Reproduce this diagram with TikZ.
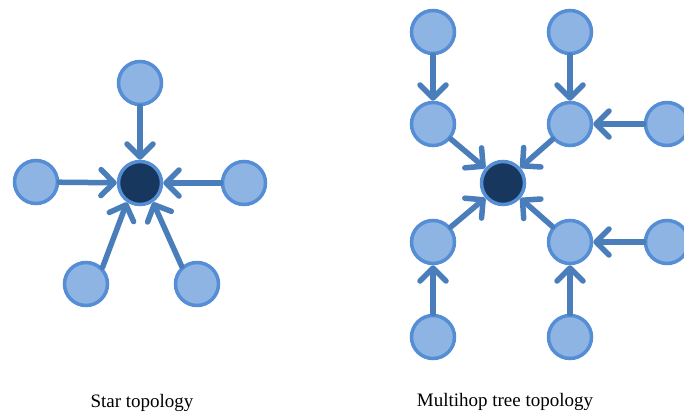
\documentclass[tikz,border=0pt]{standalone}
\usepackage{fontspec}
\setmainfont{Liberation Serif}
\usetikzlibrary{arrows.meta}
\definecolor{nodefill}{HTML}{8EB4E3}
\definecolor{nodeline}{HTML}{558ED5}
\definecolor{arrowcol}{HTML}{4A7EBB}
\definecolor{sinkfill}{HTML}{17375E}
\tikzset{
  sensor/.style={circle, inner sep=0pt, minimum size=43pt, line width=3.5pt, draw=nodeline, fill=nodefill},
  sink/.style={sensor, fill=sinkfill},
  link/.style={draw=arrowcol, line width=5.5pt, line cap=round,
    -{Straight Barb[length=13pt, width=26pt, round]}},
  caption/.style={font=\fontsize{19}{22}\selectfont, text=black}
}
\begin{document}
\begin{tikzpicture}[x=1pt, y=-1pt]
\useasboundingbox (0,0) rectangle (684,417);

% Star topology
\node[sink]   (sc) at (140,183) {};
\node[sensor] (st) at (140,83)  {};
\node[sensor] (sl) at (36,182)  {};
\node[sensor] (sr) at (244,183) {};
\node[sensor] (sbl) at (86,284) {};
\node[sensor] (sbr) at (197,284) {};
\draw[link] (st) -- (sc);
\draw[link] (sl) -- (sc);
\draw[link] (sr) -- (sc);
\draw[link] (sbl.45) -- (sc.236);
\draw[link] (sbr.131) -- (sc.304);
\node[caption] (cap1) at (142,403) {Star topology};

% Multihop tree topology
\node[sink]   (mc)  at (503,183) {};
\node[sensor] (ulo) at (433,32)  {};
\node[sensor] (uli) at (433,124) {};
\node[sensor] (uro) at (570,32)  {};
\node[sensor] (uri) at (570,124) {};
\node[sensor] (urr) at (667,124) {};
\node[sensor] (lli) at (433,242) {};
\node[sensor] (llo) at (433,337) {};
\node[sensor] (lri) at (570,242) {};
\node[sensor] (lro) at (570,337) {};
\node[sensor] (lrr) at (667,242) {};
\draw[link] (ulo) -- (uli);
\draw[link] (uro) -- (uri);
\draw[link] (urr) -- (uri);
\draw[link] (llo) -- (lli);
\draw[link] (lro) -- (lri);
\draw[link] (lrr) -- (lri);
\draw[link] (uli) -- (mc);
\draw[link] (uri) -- (mc);
\draw[link] (lli) -- (mc);
\draw[link] (lri) -- (mc);
\node[caption] (cap2) at (505,402) {Multihop tree topology};
\end{tikzpicture}
\end{document}
